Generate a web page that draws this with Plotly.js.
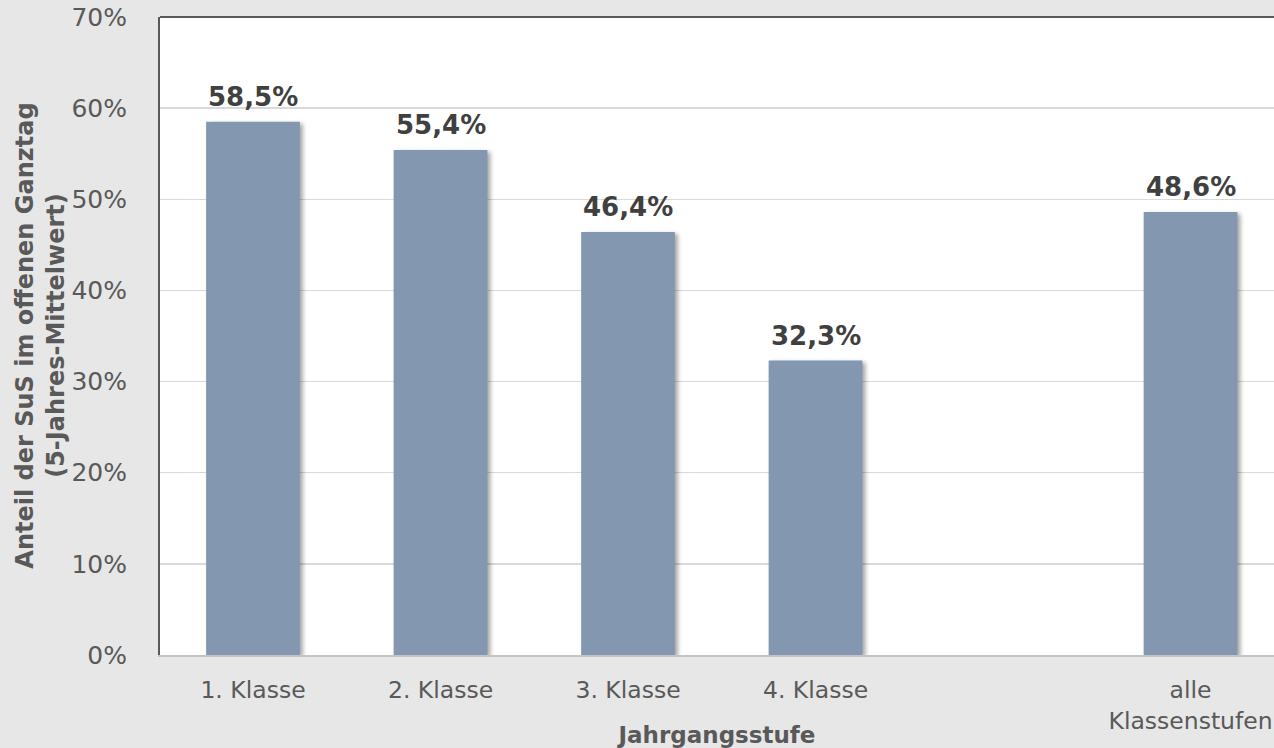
<!DOCTYPE html>
<html>
<head>
<meta charset="utf-8">
<script src="https://cdn.plot.ly/plotly-3.0.1.min.js"></script>
<style>
html,body{margin:0;padding:0;background:#e7e7e7;overflow:hidden;}
#chart{width:1274px;height:748px;}
.bars path{filter:drop-shadow(3px 2px 2px rgba(0,0,0,0.35));}
</style>
</head>
<body>
<div id="chart"></div>
<script>
const categories = ['1. Klasse', '2. Klasse', '3. Klasse', '4. Klasse', ' ', 'alle<br>Klassenstufen'];
const values = [58.5, 55.4, 46.4, 32.3, null, 48.6];
const yTickValues = [0, 10, 20, 30, 40, 50, 60, 70];
const yTickLabels = ['0%', '10%', '20%', '30%', '40%', '50%', '60%', '70%'];
const yTitle = 'Anteil der SuS im offenen Ganztag<br>(5-Jahres-Mittelwert)';
const xTitle = 'Jahrgangsstufe';

const fmt = v => v.toFixed(1).replace('.', ',') + '%';

const labelAnnotations = categories
  .map((c, i) => values[i] == null ? null : ({
    x: c, y: values[i], xref: 'x', yref: 'y',
    text: fmt(values[i]), showarrow: false,
    yanchor: 'bottom', yshift: 8,
    font: {family: 'DejaVu Sans', size: 26, color: '#404040', weight: 'bold'}
  }))
  .filter(a => a);

const trace = {
  type: 'bar',
  x: categories,
  y: values,
  width: 0.5,
  marker: {color: '#8497b0'},
  hoverinfo: 'skip'
};

const layout = {
  width: 1274, height: 748,
  margin: {l: 160, r: 0, t: 17, b: 93},
  paper_bgcolor: '#e7e7e7',
  plot_bgcolor: '#ffffff',
  showlegend: false,
  font: {family: 'DejaVu Sans', color: '#595959'},
  xaxis: {
    type: 'category',
    categoryorder: 'array', categoryarray: categories,
    range: [-0.496, 5.445],
    showgrid: false,
    showline: true, linecolor: '#c4c4c4', linewidth: 2,
    ticks: '', ticklabelstandoff: 13,
    tickfont: {family: 'DejaVu Sans', size: 23.5, color: '#595959'},
    title: {text: xTitle, standoff: 14,
      font: {family: 'DejaVu Sans', size: 23, color: '#595959', weight: 'bold'}},
    fixedrange: true
  },
  yaxis: {
    range: [0, 70],
    tickvals: yTickValues, ticktext: yTickLabels,
    showgrid: true, gridcolor: '#d9d9d9', gridwidth: 1.5,
    zeroline: false,
    showline: true, linecolor: '#595959', linewidth: 2,
    ticks: '', ticklabelstandoff: 26,
    tickfont: {family: 'DejaVu Sans', size: 25, color: '#595959'},
    fixedrange: true
  },
  shapes: [{
    type: 'line', xref: 'paper', yref: 'paper', x0: 0, x1: 1, y0: 1, y1: 1,
    line: {color: '#595959', width: 2}
  }],
  annotations: labelAnnotations.concat([{
    xref: 'paper', yref: 'paper', x: -0.108, y: 0.5,
    xanchor: 'center', yanchor: 'middle', textangle: -90,
    text: yTitle, showarrow: false,
    font: {family: 'DejaVu Sans', size: 24, color: '#595959', weight: 'bold'}
  }])
};

Plotly.newPlot('chart', [trace], layout, {displayModeBar: false, staticPlot: true});
</script>
</body>
</html>
